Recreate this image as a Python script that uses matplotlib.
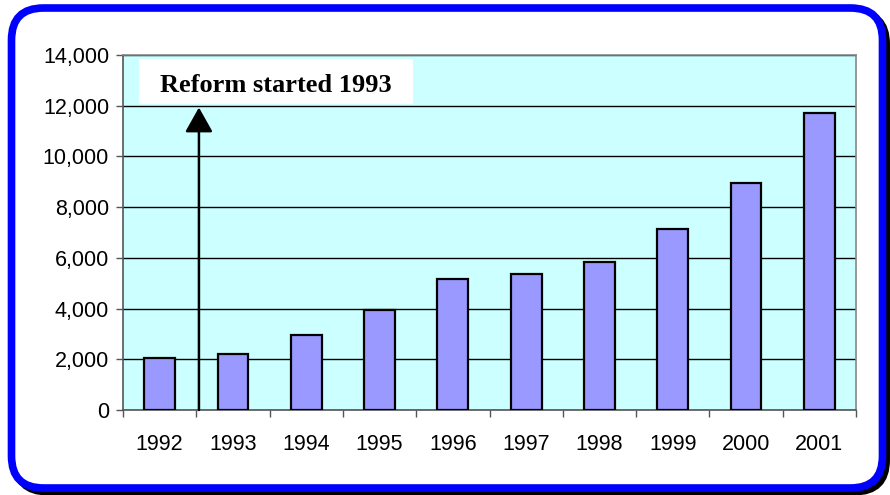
import matplotlib.pyplot as plt
from matplotlib.patches import FancyBboxPatch, Rectangle
from matplotlib.ticker import FuncFormatter

years = ['1992', '1993', '1994', '1995', '1996', '1997', '1998', '1999', '2000', '2001']
values = [2040, 2200, 2960, 3940, 5150, 5380, 5830, 7140, 8960, 11700]
note = 'Reform started 1993'

W, H = 890, 495
fig = plt.figure(figsize=(W / 100, H / 100), dpi=100)

# frame in pixel units
bg = fig.add_axes([0, 0, 1, 1], zorder=0)
bg.set_xlim(0, W)
bg.set_ylim(H, 0)
bg.axis('off')
shadow = FancyBboxPatch((15.5, 12), 871, 480, boxstyle='round,pad=0,rounding_size=32',
                        fc='none', ec='black', lw=5)
frame = FancyBboxPatch((11.5, 8), 871, 480, boxstyle='round,pad=0,rounding_size=32',
                       fc='white', ec='#0000FF', lw=5.5)
bg.add_patch(shadow)
bg.add_patch(frame)

ax = fig.add_axes([123 / W, (H - 410) / H, (856 - 123) / W, (410 - 55) / H], zorder=1)
ax.set_facecolor('#CCFFFF')
x = list(range(len(years)))
ax.bar(x, values, width=0.42, color='#9999FF', edgecolor='black', linewidth=1.6, zorder=3)

ax.set_xlim(-0.5, len(years) - 0.5)
ax.set_ylim(0, 14000)
ax.set_yticks(range(0, 14001, 2000))
ax.yaxis.set_major_formatter(FuncFormatter(lambda v, p: f'{int(v):,}'))
ax.grid(axis='y', color='black', lw=1, zorder=1)
ax.set_axisbelow(True)

ax.set_xticks([i - 0.5 for i in range(len(years) + 1)])
ax.set_xticklabels([])
ax.set_xticks(x, minor=True)
ax.set_xticklabels(years, minor=True)
ax.tick_params(axis='x', which='major', length=5, width=1, color='#555555', direction='out')
ax.tick_params(axis='x', which='minor', length=0, pad=17, labelsize=15.5)
ax.tick_params(axis='y', length=5, width=1, color='#555555', pad=5, labelsize=15.5)
for lab in ax.get_xticklabels(minor=True) + ax.get_yticklabels():
    lab.set_fontfamily('Liberation Sans')

for s in ['top', 'right']:
    ax.spines[s].set_color('#888888')
for s in ['left', 'bottom']:
    ax.spines[s].set_color('#555555')
for s in ax.spines.values():
    s.set_linewidth(1.2)

# annotation
ax.add_patch(Rectangle((-0.28, 12050), 3.74, 1810, fc='white', ec='none', zorder=4))
ax.text(1.59, 12800, note, ha='center', va='center', fontsize=19, fontweight='bold',
        family='Liberation Serif', zorder=5)
ax.annotate('', xy=(0.536, 11930), xytext=(0.536, 0),
            arrowprops=dict(arrowstyle='-|>,head_length=0.8,head_width=0.45', mutation_scale=19,
                            color='black', lw=1.8, shrinkA=0, shrinkB=0), zorder=5)

fig.savefig('out.png', dpi=100)
